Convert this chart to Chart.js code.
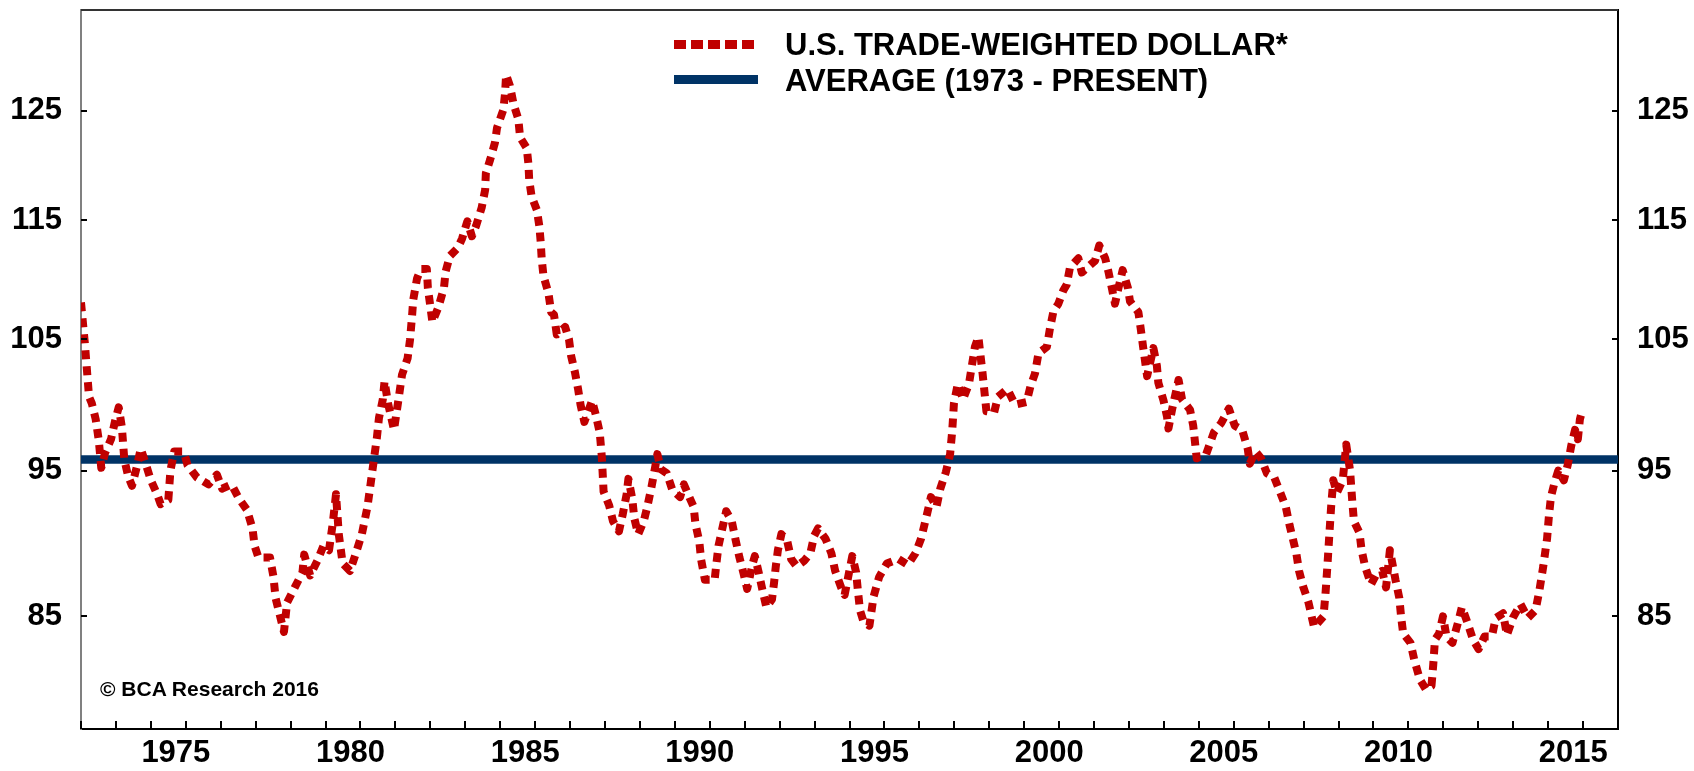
<!DOCTYPE html>
<html>
<head>
<meta charset="utf-8">
<title>U.S. Trade-Weighted Dollar</title>
<script src="https://cdn.jsdelivr.net/npm/chart.js@4.4.1/dist/chart.umd.min.js"></script>
<style>
  html, body { margin: 0; padding: 0; background: #fff; }
  #wrap { position: relative; width: 1694px; height: 771px; }
  .key { position: absolute; left: 674px; width: 80px; height: 9px; }
  .key.dollar { top: 40px; background: repeating-linear-gradient(to right, #c00000 0 12px, transparent 12px 17px); }
  .key.avg { top: 75px; width: 84px; background: #003366; }
  .label {
    position: absolute; left: 785px; white-space: nowrap;
    font: bold 31px "Liberation Sans", Arial, sans-serif; line-height: 31px; color: #000;
  }
  #copy {
    position: absolute; left: 100px; top: 678px; white-space: nowrap;
    font: bold 21px "Liberation Sans", Arial, sans-serif; line-height: 21px; color: #000;
  }
</style>
</head>
<body>
<div id="wrap">
  <canvas id="dollarChart" width="1694" height="771"></canvas>
  <div class="key dollar"></div>
  <div class="label" style="top:29px">U.S. TRADE-WEIGHTED DOLLAR*</div>
  <div class="key avg"></div>
  <div class="label" style="top:65px">AVERAGE (1973 - PRESENT)</div>
  <div id="copy">© BCA Research 2016</div>
</div>
<script>
// decimal years
const years = [
  1973.00, 1973.11, 1973.23, 1973.31, 1973.42, 1973.51, 1973.58, 1973.69, 1973.86, 1973.97,
  1974.08, 1974.17, 1974.24, 1974.35, 1974.46, 1974.60, 1974.71, 1974.84, 1975.00, 1975.18,
  1975.28, 1975.50, 1975.56, 1975.67, 1975.94, 1976.05, 1976.32, 1976.65, 1976.89, 1977.04,
  1977.31, 1977.52, 1977.75, 1977.91, 1977.97, 1978.08, 1978.41, 1978.51, 1978.57, 1978.68,
  1978.81, 1978.90, 1979.12, 1979.34, 1979.39, 1979.56, 1979.77, 1979.94, 1980.10, 1980.21,
  1980.30, 1980.38, 1980.49, 1980.70, 1980.87, 1981.04, 1981.20, 1981.31, 1981.40, 1981.47,
  1981.53, 1981.64, 1981.69, 1981.79, 1981.96, 1982.10, 1982.19, 1982.35, 1982.42, 1982.48,
  1982.51, 1982.62, 1982.73, 1982.90, 1982.93, 1983.06, 1983.23, 1983.39, 1983.44, 1983.56,
  1983.79, 1983.91, 1984.06, 1984.19, 1984.31, 1984.47, 1984.57, 1984.59, 1984.71, 1984.85,
  1984.91, 1985.09, 1985.14, 1985.17, 1985.28, 1985.38, 1985.52, 1985.57, 1985.76, 1985.81,
  1985.83, 1985.90, 1986.05, 1986.12, 1986.16, 1986.19, 1986.24, 1986.38, 1986.46, 1986.54,
  1986.62, 1986.86, 1986.97, 1987.03, 1987.14, 1987.23, 1987.30, 1987.41, 1987.63, 1987.74,
  1987.85, 1987.91, 1987.96, 1988.12, 1988.23, 1988.40, 1988.51, 1988.62, 1988.67, 1988.78,
  1988.84, 1988.95, 1989.11, 1989.22, 1989.33, 1989.44, 1989.50, 1989.60, 1989.77, 1989.93,
  1990.15, 1990.26, 1990.43, 1990.54, 1990.59, 1990.70, 1990.75, 1990.86, 1991.14, 1991.19,
  1991.25, 1991.36, 1991.47, 1991.63, 1991.74, 1991.85, 1991.96, 1992.07, 1992.23, 1992.29,
  1992.40, 1992.51, 1992.62, 1992.78, 1992.84, 1992.89, 1992.95, 1993.05, 1993.22, 1993.33,
  1993.49, 1993.71, 1993.88, 1993.99, 1994.10, 1994.31, 1994.48, 1994.59, 1994.76, 1994.86,
  1995.08, 1995.19, 1995.24, 1995.30, 1995.41, 1995.57, 1995.69, 1995.85, 1996.07, 1996.40,
  1996.67, 1996.89, 1997.05, 1997.22, 1997.33, 1997.49, 1997.60, 1997.76, 1997.88, 1997.94,
  1997.99, 1998.10, 1998.25, 1998.42, 1998.59, 1998.69, 1998.81, 1998.92, 1999.14, 1999.25,
  1999.52, 1999.74, 2000.07, 2000.18, 2000.31, 2000.41, 2000.65, 2000.74, 2000.84, 2000.98,
  2001.12, 2001.22, 2001.31, 2001.55, 2001.65, 2002.03, 2002.15, 2002.32, 2002.41, 2002.51,
  2002.60, 2002.70, 2002.82, 2002.97, 2003.03, 2003.27, 2003.34, 2003.41, 2003.52, 2003.70,
  2003.80, 2003.84, 2003.99, 2004.09, 2004.13, 2004.24, 2004.42, 2004.52, 2004.75, 2004.84,
  2004.94, 2005.21, 2005.43, 2005.64, 2005.86, 2006.03, 2006.24, 2006.40, 2006.46, 2006.62,
  2006.78, 2006.95, 2007.16, 2007.32, 2007.49, 2007.60, 2007.70, 2007.79, 2007.87, 2007.98,
  2008.14, 2008.30, 2008.57, 2008.63, 2008.68, 2008.74, 2008.79, 2008.85, 2008.95, 2009.12,
  2009.22, 2009.33, 2009.39, 2009.44, 2009.60, 2009.66, 2009.76, 2009.93, 2010.09, 2010.25,
  2010.36, 2010.47, 2010.63, 2010.74, 2010.79, 2010.85, 2011.06, 2011.17, 2011.33, 2011.50,
  2011.66, 2011.71, 2011.76, 2011.88, 2011.99, 2012.09, 2012.26, 2012.42, 2012.53, 2012.69,
  2012.85, 2013.01, 2013.18, 2013.39, 2013.50, 2013.71, 2013.82, 2013.99, 2014.21, 2014.42,
  2014.64, 2014.75, 2014.86, 2014.97, 2015.02, 2015.08, 2015.18, 2015.29, 2015.45, 2015.56,
  2015.66, 2015.77, 2015.85, 2015.91, 2015.99
];

// index values at those dates
const dollar = [
  108.0, 104.7, 100.5, 100.0,  98.8,  97.2,  95.2,  96.3,  97.3,  98.6,
   99.7,  98.2,  95.8,  94.6,  93.9,  95.3,  96.6,  95.6,  94.3,  93.3,
   92.6,  92.9,  95.0,  96.4,  96.4,  95.4,  94.5,  94.0,  94.7,  93.7,
   94.0,  93.0,  92.2,  90.9,  89.7,  88.9,  88.9,  87.6,  86.2,  85.2,
   84.0,  85.9,  86.9,  87.9,  89.1,  87.7,  88.7,  89.7,  89.4,  91.3,
   93.3,  90.5,  88.5,  88.0,  89.2,  90.5,  92.4,  94.4,  96.1,  97.4,
   98.9, 100.3, 101.7, 100.0,  98.0, 100.5, 102.2, 103.5, 105.0, 107.0,
  108.2, 110.0, 110.8, 110.8, 109.2, 106.4, 107.6, 109.2, 110.6, 111.9,
  112.6, 113.4, 114.9, 113.6, 114.5, 116.1, 117.7, 119.2, 120.4, 122.0,
  123.4, 125.1, 126.7, 128.5, 127.4, 125.7, 124.2, 122.5, 121.5, 120.0,
  118.6, 117.1, 115.9, 114.5, 113.1, 111.6, 110.2, 108.8, 107.2, 107.0,
  105.4, 106.0, 105.0, 103.7, 102.4, 101.1,  99.9,  98.6, 100.2,  99.1,
   97.8,  96.0,  93.5,  92.5,  91.4,  90.7,  91.9,  93.3,  94.4,  93.0,
   91.6,  90.5,  91.4,  92.5,  93.8,  95.3,  96.2,  95.1,  94.8,  93.6,
   93.1,  94.0,  93.0,  92.4,  91.2,  90.0,  88.8,  87.4,  87.4,  88.5,
   89.7,  90.9,  92.1,  91.4,  90.1,  88.9,  87.9,  86.8,  88.5,  89.0,
   87.9,  86.7,  85.6,  86.1,  87.2,  88.3,  89.4,  90.5,  90.0,  88.8,
   88.3,  88.7,  89.2,  90.4,  90.9,  90.2,  89.2,  88.0,  86.9,  86.4,
   89.0,  87.9,  86.7,  85.4,  84.6,  84.4,  86.3,  87.6,  88.5,  88.8,
   88.4,  89.2,  90.2,  91.9,  93.1,  92.4,  93.7,  94.9,  96.2,  97.9,
  100.0, 101.5, 100.3, 101.5, 104.4, 105.2, 102.3,  99.4,  99.3, 100.5,
  101.1,  99.9, 100.1, 101.3, 102.3, 103.9, 104.4, 105.9, 107.3, 107.9,
  109.0, 109.5, 110.9, 111.7, 110.5, 111.5, 112.8, 111.7, 110.6, 109.2,
  107.9, 109.2, 110.7, 109.2, 108.1, 107.2, 105.8, 104.3, 102.1, 104.3,
  102.9, 101.6, 100.2,  99.0,  98.1,  99.6, 101.8, 100.3,  99.5,  98.3,
   95.9,  96.2,  97.8,  98.5,  99.6,  98.3,  98.0,  96.6,  95.5,  96.4,
   95.9,  94.8,  94.5,  93.5,  92.4,  91.1,  90.1,  89.2,  88.0,  87.0,
   85.9,  84.3,  85.0,  86.6,  88.3,  90.6,  92.5,  94.3,  93.4,  94.3,
   96.9,  95.0,  92.9,  91.4,  90.6,  89.4,  88.3,  87.1,  87.8,  88.0,
   86.9,  89.4,  87.4,  86.2,  85.0,  83.9,  83.3,  82.2,  81.0,  80.4,
   80.6,  81.9,  83.5,  83.9,  85.0,  83.7,  83.3,  84.6,  85.6,  84.6,
   83.5,  82.9,  83.7,  83.7,  84.9,  85.2,  83.8,  84.9,  85.8,  84.9,
   85.4,  86.7,  88.3,  90.2,  91.7,  93.1,  94.1,  95.0,  94.3,  95.4,
   96.8,  98.0,  97.3,  98.8,  99.6
];

// long-run average since 1973
const average = 95.8;
const avgSpan = [1973, 2017];

// axis ticks
const yTicks = [85, 95, 105, 115, 125];
const xTickYears = [];
for (let yr = 1973; yr <= 2017; yr++) xTickYears.push(yr);

const FONT = '"Liberation Sans", Arial, sans-serif';
const tickFont = { family: FONT, size: 31, weight: 'bold' };

// short tick marks pointing into the plot, plus the top frame line
const innerTicks = {
  id: 'innerTicks',
  afterDraw(chart) {
    const { ctx, chartArea: a, scales } = chart;
    ctx.save();
    ctx.strokeStyle = '#000';
    ctx.lineWidth = 2;
    ctx.beginPath();
    scales.x.ticks.forEach(t => {
      const px = Math.round(scales.x.getPixelForValue(t.value));
      ctx.moveTo(px, a.bottom);
      ctx.lineTo(px, a.bottom - 8);
    });
    scales.y.ticks.forEach(t => {
      const py = Math.round(scales.y.getPixelForValue(t.value));
      ctx.moveTo(a.left, py);
      ctx.lineTo(a.left + 6, py);
    });
    scales.y2.ticks.forEach(t => {
      const py = Math.round(scales.y2.getPixelForValue(t.value));
      ctx.moveTo(a.right - 6, py);
      ctx.lineTo(a.right, py);
    });
    ctx.stroke();

    ctx.strokeStyle = '#333';
    ctx.beginPath();
    ctx.moveTo(a.left, a.top);
    ctx.lineTo(a.right, a.top);
    ctx.stroke();
    ctx.restore();
  }
};

function logAxis(position, borderColor, width) {
  return {
    type: 'logarithmic',
    position: position,
    min: 78,
    max: 135,
    afterBuildTicks: (s) => { s.ticks = yTicks.map(v => ({ value: v })); },
    afterFit: (s) => { s.width = width; s.paddingTop = 0; s.paddingBottom = 0; },
    ticks: {
      color: '#000',
      font: tickFont,
      padding: 19,
      callback: (v) => String(v)
    },
    grid: { display: true, drawOnChartArea: false, drawTicks: false },
    border: { display: true, color: borderColor, width: 2 }
  };
}

new Chart(document.getElementById('dollarChart'), {
  type: 'line',
  data: {
    datasets: [
      {
        label: 'U.S. TRADE-WEIGHTED DOLLAR*',
        data: years.map((x, i) => ({ x: x, y: dollar[i] })),
        borderColor: '#c00000',
        borderWidth: 8,
        borderDash: [9, 7],
        borderCapStyle: 'butt',
        borderJoinStyle: 'round',
        pointRadius: 0,
        tension: 0,
        yAxisID: 'y'
      },
      {
        label: 'AVERAGE (1973 - PRESENT)',
        data: avgSpan.map(x => ({ x: x, y: average })),
        borderColor: '#003366',
        borderWidth: 8.5,
        pointRadius: 0,
        yAxisID: 'y'
      }
    ]
  },
  options: {
    responsive: false,
    devicePixelRatio: 1,
    animation: false,
    layout: { padding: { top: 10, left: 0, right: 0, bottom: 0 } },
    plugins: {
      legend: { display: false },
      tooltip: { enabled: false }
    },
    scales: {
      x: {
        type: 'linear',
        min: 1973,
        max: 2017,
        afterBuildTicks: (s) => { s.ticks = xTickYears.map(v => ({ value: v })); },
        afterFit: (s) => { s.height = 42; s.paddingLeft = 0; s.paddingRight = 0; },
        ticks: {
          autoSkip: false,
          maxRotation: 0,
          minRotation: 0,
          labelOffset: 25,
          padding: 6,
          color: '#000',
          font: tickFont,
          callback: (v) => (v % 5 === 0 ? String(v) : '')
        },
        grid: { display: true, drawOnChartArea: false, drawTicks: false },
        border: { display: true, color: '#000', width: 2 }
      },
      y: logAxis('left', '#808080', 81),
      y2: logAxis('right', '#000', 76)
    }
  },
  plugins: [innerTicks]
});
</script>
</body>
</html>
